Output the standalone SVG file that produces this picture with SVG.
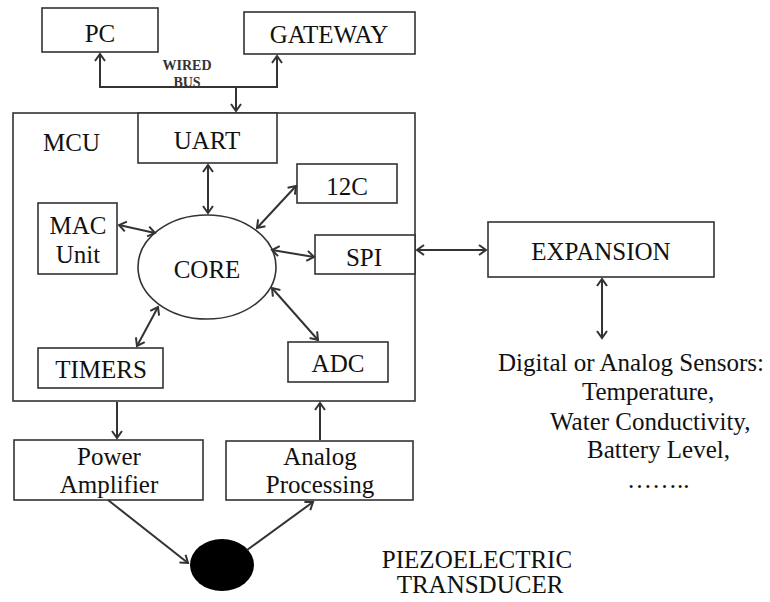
<svg xmlns="http://www.w3.org/2000/svg" width="770" height="602" viewBox="0 0 770 602">
<style>
.box{fill:#fff;stroke:#333;stroke-width:1.6}
.t{font-family:"Liberation Serif","Times New Roman",serif;font-size:25px;fill:#111}
.c{text-anchor:middle}
.s{font-family:"Liberation Serif","Times New Roman",serif;font-size:14px;fill:#333;text-anchor:middle;font-weight:bold}
.ln{fill:none;stroke:#333;stroke-width:2}
</style>
<defs>
<marker id="ah" viewBox="-10 -7 12 14" refX="0" refY="0" markerWidth="12" markerHeight="14" markerUnits="userSpaceOnUse" orient="auto-start-reverse">
<path d="M-7,-5 L0,0 L-7,5" fill="none" stroke="#333" stroke-width="2"/>
</marker>
</defs>
<rect width="770" height="602" fill="#fff"/>
<g id="mcu">
<rect class="box" x="13" y="113" width="402" height="288"/>
<text class="t" x="43" y="151">MCU</text>
</g>
<g id="pc"><rect class="box" x="42" y="8" width="116" height="44"/><text class="t c" x="100" y="42">PC</text></g>
<g id="gateway"><rect class="box" x="244" y="12" width="171" height="42"/><text class="t c" x="329" y="43">GATEWAY</text></g>
<g id="uart"><rect class="box" x="138" y="113" width="139" height="50"/><text class="t c" x="207" y="149">UART</text></g>
<g id="i2c"><rect class="box" x="297" y="164" width="100" height="39"/><text class="t c" x="347" y="195">12C</text></g>
<g id="mac"><rect class="box" x="38" y="203" width="79" height="71"/><text class="t c" x="78" y="234">MAC</text><text class="t c" x="78" y="263">Unit</text></g>
<g id="core"><ellipse cx="207" cy="267" rx="69" ry="52" fill="#fff" stroke="#333" stroke-width="1.6"/><text class="t c" x="207" y="278">CORE</text></g>
<g id="spi"><rect class="box" x="315" y="235" width="100" height="39"/><text class="t c" x="364" y="266">SPI</text></g>
<g id="timers"><rect class="box" x="38" y="348" width="125" height="40"/><text class="t c" x="101" y="378">TIMERS</text></g>
<g id="adc"><rect class="box" x="288" y="342" width="100" height="40"/><text class="t c" x="338" y="372">ADC</text></g>
<g id="expansion"><rect class="box" x="488" y="222" width="226" height="55"/><text class="t c" x="601" y="260">EXPANSION</text></g>
<g id="sensors">
<text class="t" x="498" y="371">Digital or Analog Sensors:</text>
<text class="t" x="582" y="400">Temperature,</text>
<text class="t" x="550" y="430">Water Conductivity,</text>
<text class="t" x="587" y="458">Battery Level,</text>
<text class="t" x="627" y="488">……..</text>
</g>
<g id="power"><rect class="box" x="14" y="440" width="189" height="60"/><text class="t c" x="109" y="465">Power</text><text class="t c" x="109" y="493">Amplifier</text></g>
<g id="analog"><rect class="box" x="226" y="441" width="187" height="59"/><text class="t c" x="320" y="465">Analog</text><text class="t c" x="320" y="493">Processing</text></g>
<g id="piezo"><ellipse cx="222" cy="565" rx="32" ry="26" fill="#000"/>
<text class="t c" x="477" y="568">PIEZOELECTRIC</text><text class="t c" x="480" y="593">TRANSDUCER</text></g>
<g id="bus-label"><text class="s" x="187" y="70">WIRED</text><text class="s" x="187" y="87">BUS</text></g>
<g id="connectors">
<path class="ln" d="M236,87 L100,87 L100,54" marker-end="url(#ah)"/>
<path class="ln" d="M236,87 L277,87 L277,56" marker-end="url(#ah)"/>
<path class="ln" d="M236,87 L236,111" marker-end="url(#ah)"/>
<path class="ln" d="M208,165 L208,213" marker-start="url(#ah)" marker-end="url(#ah)"/>
<path class="ln" d="M296,186 L257,228" marker-start="url(#ah)" marker-end="url(#ah)"/>
<path class="ln" d="M119,225 L155,233" marker-start="url(#ah)" marker-end="url(#ah)"/>
<path class="ln" d="M272,250 L314,257" marker-start="url(#ah)" marker-end="url(#ah)"/>
<path class="ln" d="M137,346 L158,307" marker-start="url(#ah)" marker-end="url(#ah)"/>
<path class="ln" d="M272,288 L318,340" marker-start="url(#ah)" marker-end="url(#ah)"/>
<path class="ln" d="M417,250 L486,250" marker-start="url(#ah)" marker-end="url(#ah)"/>
<path class="ln" d="M602,279 L602,338" marker-start="url(#ah)" marker-end="url(#ah)"/>
<path class="ln" d="M117,402 L117,438" marker-end="url(#ah)"/>
<path class="ln" d="M320,440 L320,403" marker-end="url(#ah)"/>
<path class="ln" d="M108,500 L188,563" marker-end="url(#ah)"/>
<path class="ln" d="M247,550 L313,502" marker-end="url(#ah)"/>
</g>
</svg>
